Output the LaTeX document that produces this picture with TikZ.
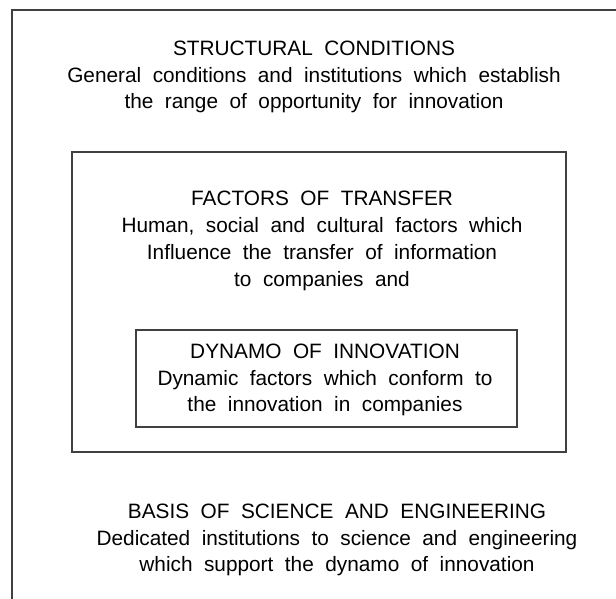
\documentclass[tikz,border=0pt]{standalone}
\usepackage{fontspec}
\setmainfont{Liberation Sans}
\usepackage{tikz}

\newcommand\widewords{\spaceskip=11.5pt\relax}

\tikzset{
    frame/.style={draw=black!75, line width=1.4pt},
    blocktext/.style={align=center, inner sep=0pt, font=\fontsize{20.8}{26.8}\selectfont\widewords}
}

\begin{document}
\begin{tikzpicture}[x=1pt,y=-1pt]
        \useasboundingbox (0,0) rectangle (616,599);
        \clip (0,0) rectangle (616,599);

        % Outer frame (runs off the page)
        \draw[frame] (12,10) rectangle (630,620);

        % Middle frame
        \draw[frame] (72,152) rectangle (566,452);

        % Inner frame
        \draw[frame] (136,330) rectangle (517,427);

        % Texts
        \node[blocktext] (structural) at (314,77) {STRUCTURAL CONDITIONS\\General conditions and institutions which establish\\the range of opportunity for innovation};
        \node[blocktext] (transfer) at (322,241) {FACTORS OF TRANSFER\\Human, social and cultural factors which\\Influence the transfer of information\\to companies and};
        \node[blocktext] (dynamo) at (325,380) {DYNAMO OF INNOVATION\\Dynamic factors which conform to\\the innovation in companies};
        \node[blocktext] (basis) at (337,540) {BASIS OF SCIENCE AND ENGINEERING\\Dedicated institutions to science and engineering\\which support the dynamo of innovation};
    \end{tikzpicture}
\end{document}
